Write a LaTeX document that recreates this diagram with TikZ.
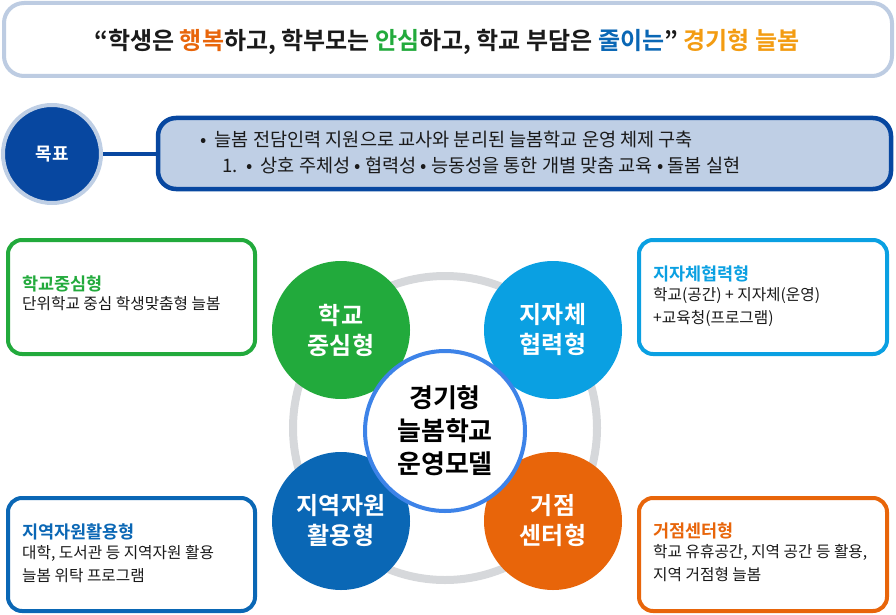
\documentclass[tikz,border=0pt]{standalone}
\usepackage{fontspec}
\setmainfont{Noto Sans CJK KR}[BoldFont={Noto Sans CJK KR Bold}]
\definecolor{bannerline}{HTML}{BDCCE2}
\definecolor{navy}{HTML}{0747A0}
\definecolor{goalfill}{HTML}{BFCFE5}
\definecolor{cgreen}{HTML}{22AA3C}
\definecolor{ccyan}{HTML}{0AA0E2}
\definecolor{cblue}{HTML}{0A67B5}
\definecolor{corange}{HTML}{E8650A}
\definecolor{cyellow}{HTML}{F39C12}
\definecolor{ringgray}{HTML}{D6D8DB}
\definecolor{centerline}{HTML}{3D83E8}
\definecolor{txt}{HTML}{1A1A1A}
\tikzset{
  cornerbox/.style={draw=#1, line width=4pt, rounded corners=14pt, fill=white},
  modelcirc/.style={circle, fill=#1, minimum size=138pt, inner sep=0pt, text=white, font=\fontsize{24}{30}\selectfont\bfseries, align=center},
  boxtitle/.style={anchor=west, font=\fontsize{17.5}{20}\selectfont\bfseries, text=#1, inner sep=0pt},
  boxtext/.style={anchor=north west, font=\fontsize{15.7}{23}\selectfont, text=txt, align=left, inner sep=0pt},
  goaltext/.style={anchor=west, font=\fontsize{18.6}{22}\selectfont, text=txt, inner sep=0pt},
  centerfont/.style={font=\fontsize{26}{33}\selectfont\bfseries, align=center},
}
\begin{document}
\begin{tikzpicture}[x=1pt,y=-1pt]
\useasboundingbox (0,0) rectangle (896,615);
% banner
\draw[draw=bannerline, line width=4pt, rounded corners=20pt, fill=white] (4,3) rectangle (892,76);
\node[font=\fontsize{24}{28}\selectfont\bfseries, text=txt] (banner) at (447,42)
 {“학생은 \textcolor{corange}{행복}하고, 학부모는 \textcolor{cgreen}{안심}하고, 학교 부담은 \textcolor{cblue}{줄이는}” \textcolor{cyellow}{경기형 늘봄}};
% goal
\node[draw=goalfill, line width=4pt, fill=navy, minimum size=98pt, circle, inner sep=0pt, text=white, font=\fontsize{18}{22}\selectfont\bfseries] (goal) at (52,154) {목표};
\draw[draw=navy, line width=4.5pt, rounded corners=18pt, fill=goalfill] (158,118) rectangle (891,189);
\coordinate (gbox) at (158,154);
\draw[navy, line width=4pt] (goal.east) -- (gbox);
\node[goaltext] (g1) at (200,140) {•\ \ 늘봄 전담인력 지원으로 교사와 분리된 늘봄학교 운영 체제 구축};
\node[goaltext] (g2) at (222,165) {1.\ \ •\ \ 상호 주체성 • 협력성 • 능동성을 통한 개별 맞춤 교육 • 돌봄 실현};
% ring
\draw[ringgray, line width=8pt] (445,428) circle (152);
% model circles
\node[modelcirc=cgreen] (c1) at (341,330) {학교\\중심형};
\node[modelcirc=ccyan] (c2) at (553,330) {지자체\\협력형};
\node[modelcirc=cblue] (c3) at (341,521) {지역자원\\활용형};
\node[modelcirc=corange] (c4) at (553,521) {거점\\센터형};
\node[circle, draw=centerline, line width=4pt, fill=white, minimum size=160pt, inner sep=0pt, text=black, centerfont] (center) at (445,431) {경기형\\늘봄학교\\운영모델};
% corner boxes
\draw[cornerbox=cgreen] (8,240) rectangle (255,354);
\node[boxtitle=cgreen] (t1) at (22,284) {학교중심형};
\node[boxtext] (b1) at (22,296) {단위학교 중심 학생맞춤형 늘봄};
\draw[cornerbox=ccyan] (639,240) rectangle (887,354);
\node[boxtitle=ccyan] (t2) at (653,274) {지자체협력형};
\node[boxtext] (b2) at (653,287) {학교(공간) + 지자체(운영)\\+교육청(프로그램)};
\draw[cornerbox=cblue] (8,498) rectangle (255,611);
\node[boxtitle=cblue] (t3) at (22,532) {지역자원활용형};
\node[boxtext] (b3) at (22,545) {대학, 도서관 등 지역자원 활용\\늘봄 위탁 프로그램};
\draw[cornerbox=corange] (639,498) rectangle (887,611);
\node[boxtitle=corange] (t4) at (653,531) {거점센터형};
\node[boxtext] (b4) at (653,544) {학교 유휴공간, 지역 공간 등 활용,\\지역 거점형 늘봄};
\end{tikzpicture}
\end{document}
